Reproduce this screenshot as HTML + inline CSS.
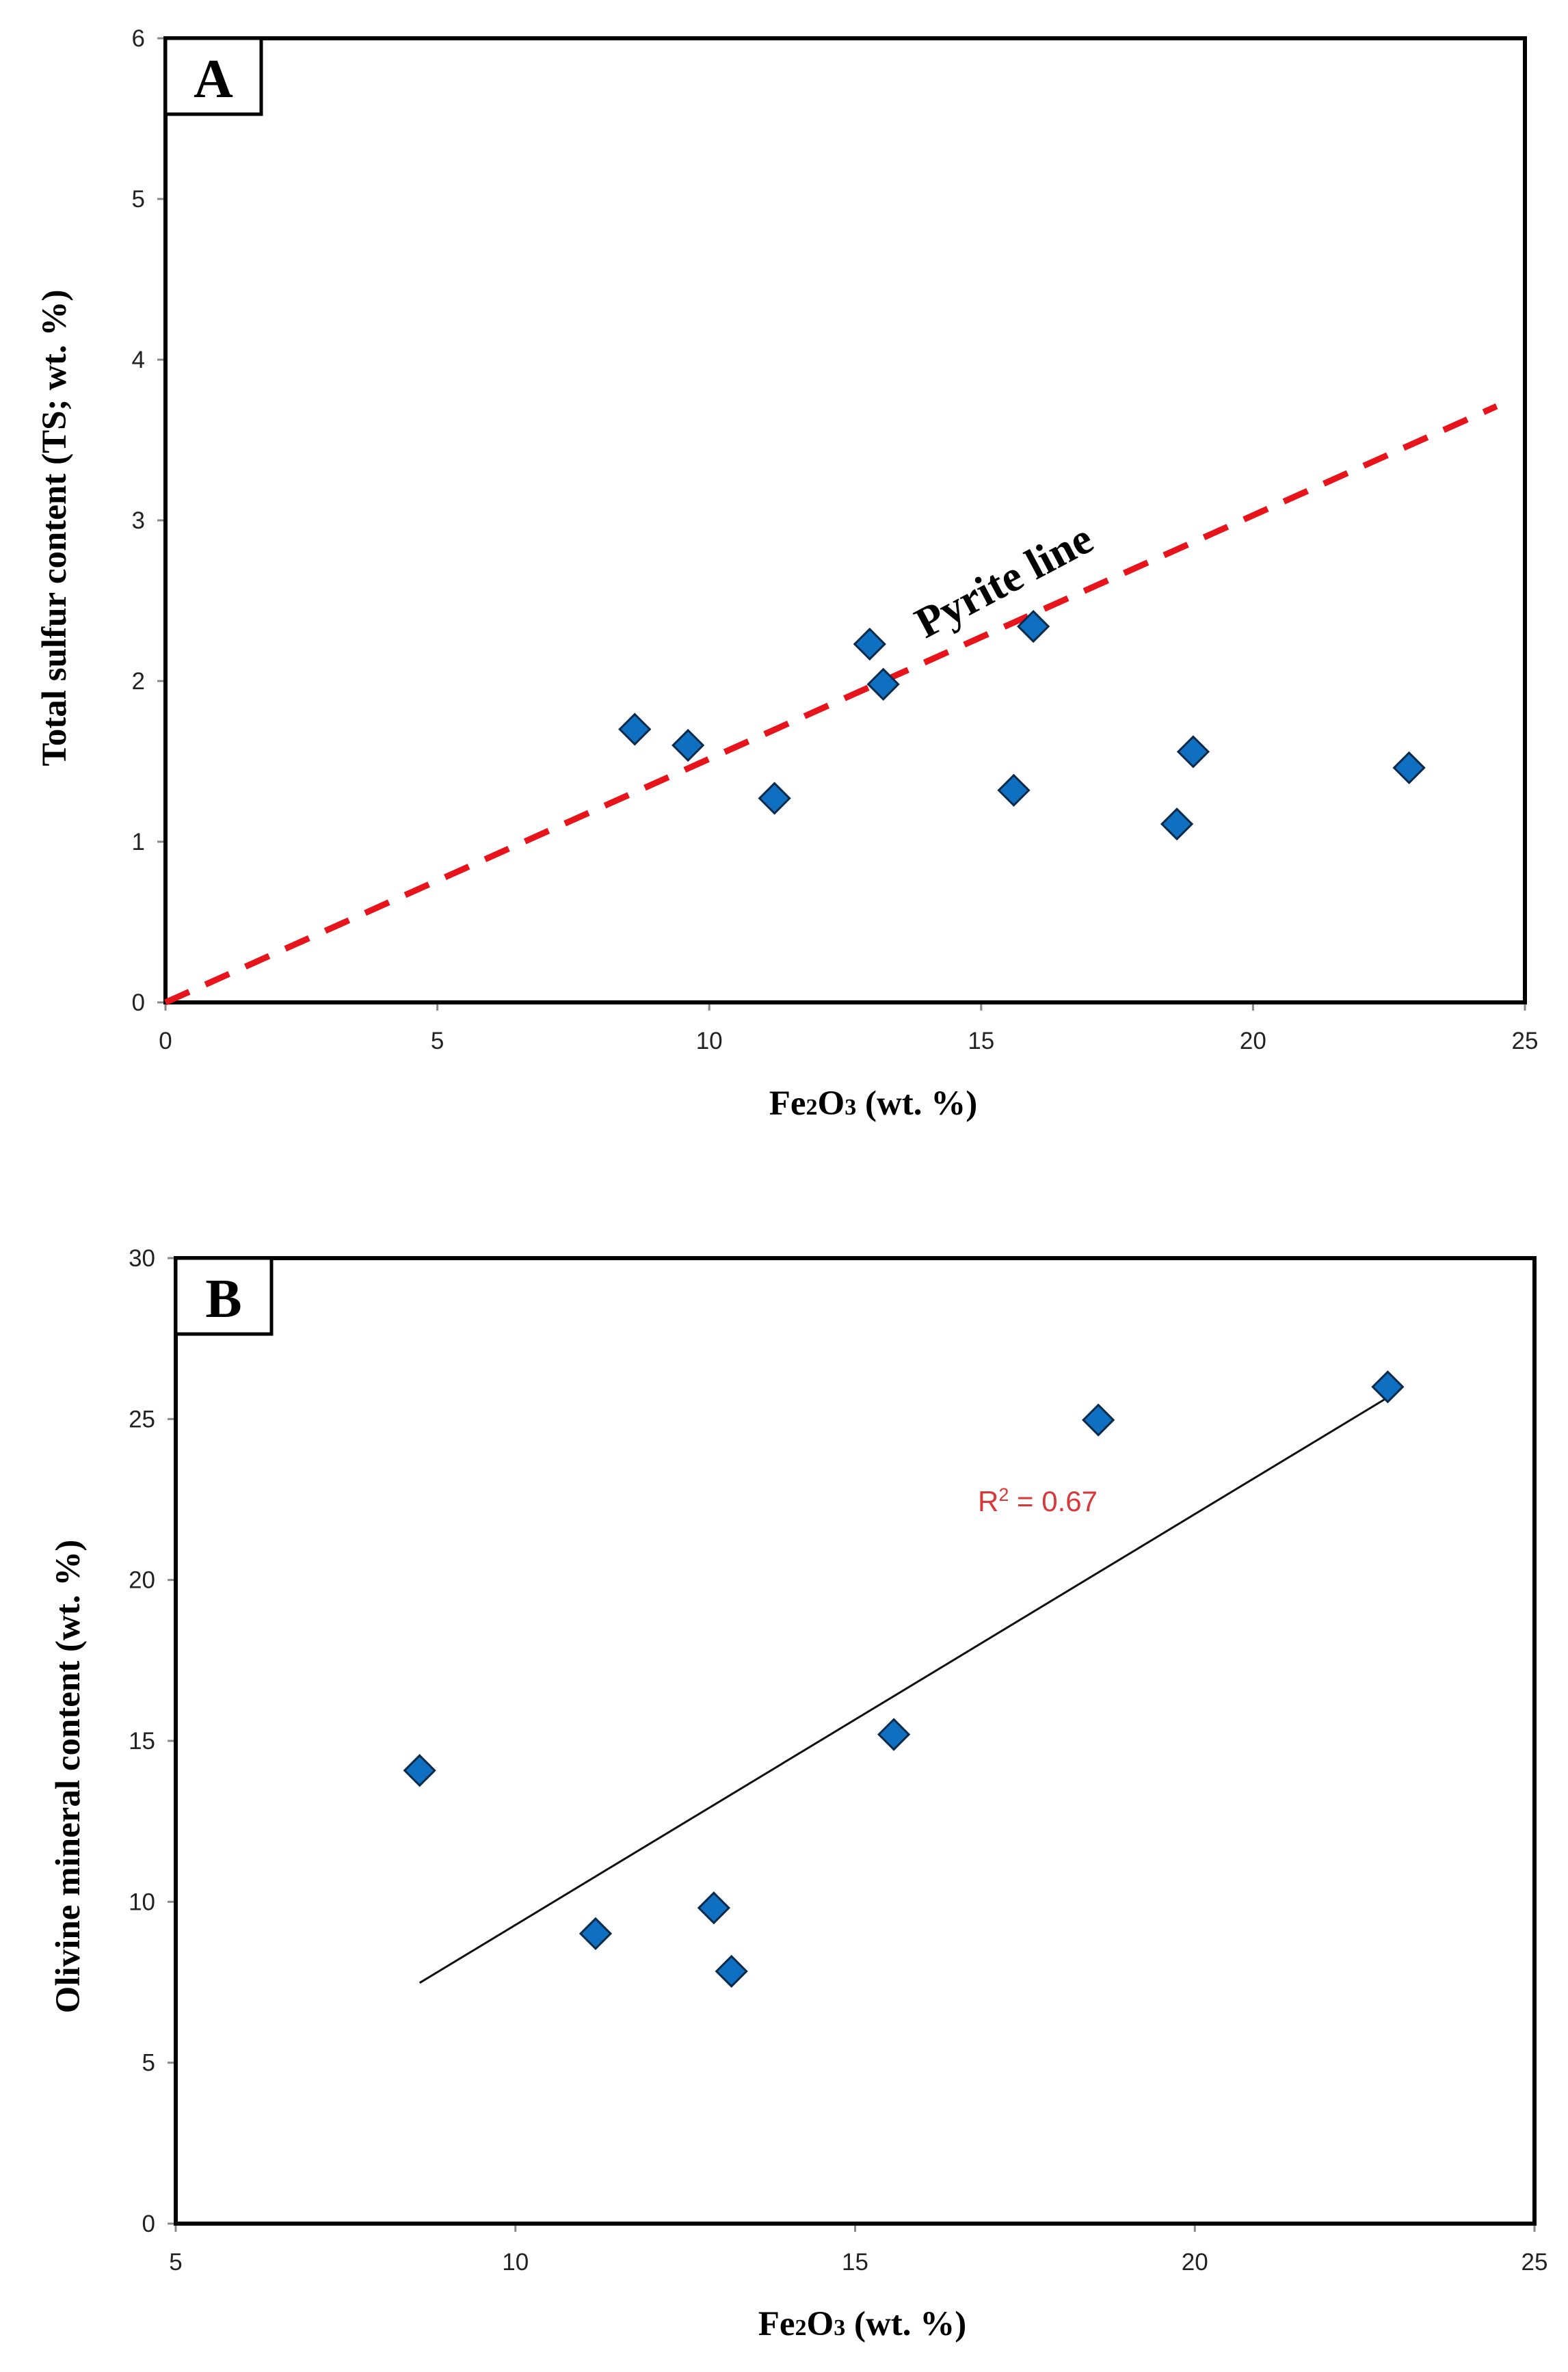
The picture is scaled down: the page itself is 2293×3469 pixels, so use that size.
<!DOCTYPE html>
<html><head><meta charset="utf-8"><style>
html,body{margin:0;padding:0;background:#fff;}
svg{display:block;}
.tick{font-family:"Liberation Sans",sans-serif;font-size:35px;fill:#222;}
.ttl{font-family:"Liberation Serif",serif;font-weight:bold;font-size:51px;fill:#000;}
</style></head><body>
<svg id="fig" width="2293" height="3469" viewBox="0 0 2293 3469" xmlns="http://www.w3.org/2000/svg">
<g id="chartA"></g>
<g id="chartB"></g>
</svg>
<script>
// Chart A data
const aFe = [8.63, 9.61, 11.2, 12.95, 13.2, 15.6, 15.96, 18.6, 18.9, 22.87];
const aTS = [1.70, 1.60, 1.27, 2.23, 1.98, 1.32, 2.34, 1.11, 1.56, 1.46];
const aXTicks = [0, 5, 10, 15, 20, 25];
const aYTicks = [0, 1, 2, 3, 4, 5, 6];
const pyriteX = [0, 24.48];
const pyriteY = [0, 3.71];
// Chart B data
const bFe = [8.59, 11.18, 12.92, 13.18, 15.57, 18.58, 22.84];
const bOl = [14.08, 9.01, 9.81, 7.84, 15.2, 24.97, 26.0];
const bXTicks = [5, 10, 15, 20, 25];
const bYTicks = [0, 5, 10, 15, 20, 25, 30];

const NS = "http://www.w3.org/2000/svg";
function mk(parent, tag, attrs, text){
  const e = document.createElementNS(NS, tag);
  for (const k in attrs) e.setAttribute(k, attrs[k]);
  if (text !== undefined) e.textContent = text;
  parent.appendChild(e);
  return e;
}
function diamond(g, cx, cy){
  const s = 22;
  const d = mk(g, 'polygon', {points:`${cx},${cy-s} ${cx+s},${cy} ${cx},${cy+s} ${cx-s},${cy}`, fill:'#0f6fc0', stroke:'#0a2a4a', 'stroke-width':3});
  
  
}
function frame(g, L, T, R, B, xt, yt, sx, sy, letter){
  xt.forEach(v=>{
    const x = sx(v);
    const t = mk(g,'line',{x1:x,y1:B,x2:x,y2:B+12,stroke:'#888','stroke-width':3});
    
    
    const l = mk(g,'text',{x:x,y:B+68,'text-anchor':'middle',class:'tick'},String(v));
    
    
  });
  yt.forEach(v=>{
    const y = sy(v);
    const t = mk(g,'line',{x1:L-12,y1:y,x2:L,y2:y,stroke:'#888','stroke-width':3});
    
    
    const l = mk(g,'text',{x:L-30,y:y+12,'text-anchor':'end',class:'tick'},String(v));
    
    
  });
  const r = mk(g,'rect',{x:L,y:T,width:R-L,height:B-T,fill:'none',stroke:'#000','stroke-width':6});
  
  
  const bx = mk(g,'rect',{x:L,y:T,width:140,height:111,fill:'#fff',stroke:'#000','stroke-width':5});
  
  
  const lt = mk(g,'text',{x:L+70,y:T+86,'text-anchor':'middle',style:'font-family:"Liberation Serif",serif;font-weight:bold;font-size:80px;'},letter);
  
  
}
function xTitle(g, cx, y){
  const t = mk(g,'text',{x:cx,y:y,'text-anchor':'middle',class:'ttl'});
  
  
  t.innerHTML = 'Fe<tspan font-size="34">2</tspan>O<tspan font-size="34">3</tspan> (wt. %)';
}
function yTitle(g, x, cy, txt){
  const t = mk(g,'text',{x:0,y:0,'text-anchor':'middle',class:'ttl',transform:`translate(${x},${cy}) rotate(-90)`},txt);
  
  
}

// ---- Chart A ----
(function(){
  const g = document.getElementById('chartA');
  const L=242,T=56,R=2230,B=1466;
  const sx = v => L + (v-0)/(25-0)*(R-L);
  const sy = v => B - (v-0)/(6-0)*(B-T);
  frame(g,L,T,R,B,aXTicks,aYTicks,sx,sy,'A');
  const pl = mk(g,'line',{x1:sx(pyriteX[0]),y1:sy(pyriteY[0]),x2:sx(pyriteX[1]),y2:sy(pyriteY[1]),stroke:'#e8141c','stroke-width':9,'stroke-dasharray':'38 26'});
  
  
  const pt = mk(g,'text',{x:0,y:0,'text-anchor':'middle',transform:'translate(1478,868) rotate(-28)',style:'font-family:"Liberation Serif",serif;font-weight:bold;font-size:64px;'},'Pyrite line');
  
  
  aFe.forEach((v,i)=>diamond(g,sx(v),sy(aTS[i])));
  xTitle(g,1277,1630);
  yTitle(g,96,772,'Total sulfur content (TS; wt. %)');
})();

// ---- Chart B ----
(function(){
  const g = document.getElementById('chartB');
  const L=257,T=1840,R=2244,B=3252;
  const sx = v => L + (v-5)/(25-5)*(R-L);
  const sy = v => B - (v-0)/(30-0)*(B-T);
  frame(g,L,T,R,B,bXTicks,bYTicks,sx,sy,'B');
  const n=bFe.length;
  const mx=bFe.reduce((a,b)=>a+b,0)/n, my=bOl.reduce((a,b)=>a+b,0)/n;
  let sxy=0,sxx=0;
  for(let i=0;i<n;i++){sxy+=(bFe[i]-mx)*(bOl[i]-my);sxx+=(bFe[i]-mx)**2;}
  const m=sxy/sxx, c=my-m*mx;
  const x0=Math.min(...bFe), x1=Math.max(...bFe);
  const tl = mk(g,'line',{x1:sx(x0),y1:sy(m*x0+c),x2:sx(x1),y2:sy(m*x1+c),stroke:'#111','stroke-width':3});
  
  
  const r2 = mk(g,'text',{x:1430,y:2210,style:'font-family:"Liberation Sans",sans-serif;font-size:42px;fill:#d9373a;'});
  
  
  r2.innerHTML = 'R<tspan font-size="27" dy="-15">2</tspan><tspan dy="15"> = 0.67</tspan>';
  bFe.forEach((v,i)=>diamond(g,sx(v),sy(bOl[i])));
  xTitle(g,1261,3415);
  yTitle(g,116,2598,'Olivine mineral content (wt. %)');
})();
</script>
</body></html>
